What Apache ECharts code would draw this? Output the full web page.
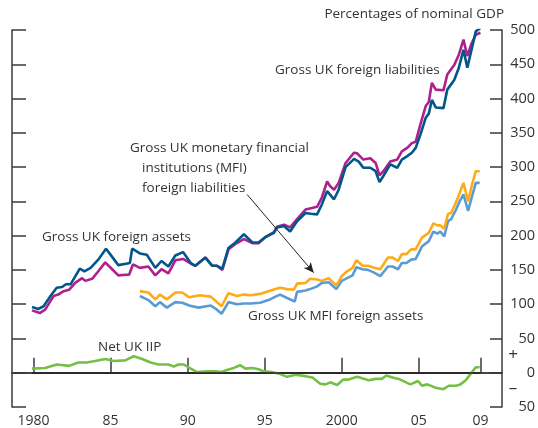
<!DOCTYPE html>
<html>
<head>
<meta charset="utf-8">
<script src="https://cdn.jsdelivr.net/npm/echarts@6/dist/echarts.min.js"></script>
<style>
  html, body { margin: 0; padding: 0; background: #fff; }
  #chart { width: 538px; height: 428px; }
</style>
</head>
<body>
<div id="chart"></div>
<script>
// Tick positions and labels
const tickYears = [1980, 1985, 1990, 1995, 2000, 2005, 2009];
const tickLabels = ["1980", "85", "90", "95", "2000", "05", "09"];

// Percentages of nominal GDP, [year, value]
const grossAssets = [
  [1979.9, 96], [1980.3, 93], [1980.65, 97], [1981.1, 112], [1981.5, 124], [1981.85, 125],
  [1982.1, 129], [1982.4, 129], [1983.0, 152], [1983.3, 148], [1983.7, 153], [1984.2, 165],
  [1984.7, 181], [1985.1, 169], [1985.5, 157], [1986.0, 159], [1986.25, 160], [1986.4, 181],
  [1986.9, 174], [1987.35, 172], [1987.9, 153], [1988.3, 163], [1988.75, 155], [1989.2, 171],
  [1989.7, 176], [1990.2, 160], [1990.5, 156], [1991.15, 168], [1991.6, 156], [1991.9, 156],
  [1992.25, 152], [1992.65, 182], [1993.1, 190], [1993.65, 202], [1994.2, 190], [1994.6, 190],
  [1995.05, 198], [1995.6, 204], [1995.8, 212], [1996.25, 214], [1996.65, 206], [1997.1, 221],
  [1997.65, 233], [1998.0, 232], [1998.4, 231], [1998.7, 245], [1999.05, 265], [1999.5, 253],
  [1999.8, 267], [2000.25, 300], [2000.8, 312], [2001.1, 308], [2001.4, 299], [2001.85, 299],
  [2002.2, 294], [2002.45, 278], [2002.7, 287], [2003.15, 304], [2003.6, 299], [2003.9, 311],
  [2004.25, 316], [2004.55, 321], [2004.8, 328], [2005.1, 347], [2005.45, 372], [2005.65, 378],
  [2005.85, 398], [2006.1, 387], [2006.6, 386], [2006.85, 413], [2007.3, 427], [2007.6, 445],
  [2007.9, 471], [2008.15, 445], [2008.4, 469], [2008.7, 498], [2009.0, 503]
];

const grossLiabilities = [
  [1979.9, 91], [1980.4, 87], [1980.75, 92], [1981.3, 112], [1981.6, 114], [1981.95, 119],
  [1982.3, 121], [1982.7, 131], [1983.15, 138], [1983.35, 134], [1983.8, 137], [1984.2, 148],
  [1984.65, 161], [1985.1, 151], [1985.5, 142], [1986.0, 143], [1986.2, 143], [1986.45, 158],
  [1986.9, 153], [1987.45, 155], [1987.9, 142], [1988.3, 151], [1988.75, 145], [1989.2, 164],
  [1989.7, 166], [1990.3, 158], [1990.5, 156], [1991.15, 168], [1991.6, 156], [1991.9, 156],
  [1992.25, 150], [1992.65, 180], [1993.1, 188], [1993.65, 195], [1994.2, 189], [1994.6, 189],
  [1995.05, 198], [1995.6, 205], [1995.8, 213], [1996.25, 216], [1996.65, 212], [1997.1, 224],
  [1997.65, 238], [1998.0, 240], [1998.4, 242], [1998.7, 255], [1999.05, 279], [1999.25, 272],
  [1999.5, 267], [1999.8, 277], [2000.25, 306], [2000.8, 321], [2001.0, 320], [2001.4, 311],
  [2001.85, 313], [2002.2, 306], [2002.45, 288], [2002.7, 294], [2003.15, 308], [2003.6, 311],
  [2003.9, 323], [2004.25, 328], [2004.55, 335], [2004.8, 337], [2005.1, 362], [2005.45, 389],
  [2005.65, 395], [2005.85, 423], [2006.1, 413], [2006.6, 412], [2006.85, 435], [2007.3, 449],
  [2007.6, 464], [2007.9, 486], [2008.15, 462], [2008.4, 479], [2008.7, 493], [2009.0, 496]
];

const mfiLiabilities = [
  [1986.9, 119], [1987.45, 117], [1987.9, 107], [1988.2, 114], [1988.65, 107], [1989.2, 117],
  [1989.65, 117], [1990.1, 110], [1990.8, 113], [1991.5, 111], [1991.9, 103], [1992.2, 97],
  [1992.65, 116], [1993.2, 112], [1993.65, 114], [1994.1, 113], [1994.7, 115], [1995.25, 119],
  [1995.7, 122], [1996.0, 124], [1996.45, 122], [1996.9, 121], [1997.1, 130], [1997.65, 131],
  [1997.95, 137], [1998.4, 136], [1998.7, 134], [1999.15, 138], [1999.65, 127], [2000.0, 141],
  [2000.35, 148], [2000.7, 153], [2000.95, 164], [2001.35, 156], [2001.7, 156], [2002.1, 153],
  [2002.5, 151], [2003.0, 168], [2003.3, 168], [2003.65, 163], [2003.9, 173], [2004.2, 173],
  [2004.5, 180], [2004.8, 180], [2005.2, 197], [2005.65, 204], [2005.95, 218], [2006.2, 215],
  [2006.4, 215], [2006.65, 210], [2006.9, 232], [2007.1, 233], [2007.4, 248], [2007.65, 262],
  [2007.9, 277], [2008.2, 250], [2008.45, 274], [2008.7, 294], [2008.95, 294]
];

const mfiAssets = [
  [1986.9, 112], [1987.45, 106], [1987.9, 97], [1988.2, 103], [1988.65, 95], [1989.2, 103],
  [1989.65, 102], [1990.1, 98], [1990.7, 95], [1991.5, 98], [1991.9, 92], [1992.2, 86],
  [1992.65, 103], [1993.2, 100], [1993.65, 101], [1994.1, 101], [1994.7, 102], [1995.25, 106],
  [1995.7, 111], [1996.0, 114], [1996.45, 109], [1996.95, 104], [1997.1, 118], [1997.65, 120],
  [1997.95, 122], [1998.4, 126], [1998.7, 131], [1999.15, 132], [1999.65, 122], [2000.0, 134],
  [2000.35, 138], [2000.7, 142], [2000.95, 154], [2001.35, 151], [2001.7, 150], [2002.1, 146],
  [2002.5, 141], [2003.0, 155], [2003.3, 155], [2003.65, 151], [2003.9, 160], [2004.2, 160],
  [2004.5, 165], [2004.8, 166], [2005.2, 184], [2005.65, 192], [2005.95, 206], [2006.2, 203],
  [2006.4, 206], [2006.65, 199], [2006.9, 221], [2007.1, 224], [2007.4, 237], [2007.65, 250],
  [2007.9, 260], [2008.2, 236], [2008.45, 257], [2008.7, 277], [2008.95, 277]
];

const netIIP = [
  [1979.9, 6], [1980.75, 7], [1981.5, 12], [1982.3, 10], [1982.9, 15], [1983.45, 15],
  [1984.0, 17], [1984.65, 20], [1985.2, 17], [1985.95, 18], [1986.5, 24], [1987.05, 20],
  [1987.6, 15], [1988.1, 12], [1988.75, 12], [1989.1, 9], [1989.4, 12], [1989.75, 12],
  [1990.2, 6], [1990.6, 1], [1991.25, 2], [1991.8, 2], [1992.2, 1], [1992.55, 4],
  [1993.0, 7], [1993.4, 11], [1993.75, 6], [1994.2, 7], [1994.6, 5], [1994.95, 2],
  [1995.4, 1], [1995.9, -1], [1996.45, -6], [1997.0, -3], [1997.65, -5], [1998.1, -7],
  [1998.6, -16], [1998.95, -17], [1999.25, -14], [1999.7, -18], [2000.1, -10], [2000.45, -10],
  [2001.0, -6], [2001.75, -11], [2002.2, -9], [2002.6, -9], [2002.9, -4], [2003.3, -7],
  [2003.7, -9], [2004.45, -17], [2004.95, -12], [2005.2, -19], [2005.55, -17], [2006.1, -22],
  [2006.6, -24], [2006.95, -19], [2007.4, -19], [2007.7, -17], [2008.05, -11], [2008.35, -2],
  [2008.7, 8], [2008.95, 8]
];

const FONT = "'Open Sans', 'Noto Sans', sans-serif";
const TEXT = "#333";
const AXIS = "#3a3a3a";

function label(text, x, y, align, size) {
  return {
    type: "text",
    x: x,
    y: y,
    style: {
      text: text,
      fill: TEXT,
      font: (size || 13.5) + "px " + FONT,
      textAlign: align || "left",
      textVerticalAlign: "middle",
    },
  };
}

function lineSeries(name, data, color, extra) {
  return Object.assign({
    name: name,
    type: "line",
    data: data,
    showSymbol: false,
    symbol: "none",
    lineStyle: { width: 2.6, color: color },
    itemStyle: { color: color },
  }, extra || {});
}

document.addEventListener("DOMContentLoaded", function () {
  const chart = echarts.init(document.getElementById("chart"));
  const option = {
    animation: false,
    textStyle: { fontFamily: FONT },
    grid: { left: 12, right: 36, top: 30, bottom: 21 },
    xAxis: [
      {
        type: "value",
        min: 1978.6,
        max: 2010.4,
        position: "bottom",
        axisLine: { show: true, lineStyle: { color: AXIS, width: 1.5 } },
        axisTick: {
          show: true,
          inside: true,
          length: 15,
          customValues: tickYears,
          lineStyle: { color: AXIS, width: 1.5 },
        },
        axisLabel: {
          customValues: tickYears,
          formatter: function (v) {
            return tickLabels[tickYears.indexOf(v)];
          },
          color: TEXT,
          fontSize: 14,
          margin: 7,
        },
        splitLine: { show: false },
      },
      {
        type: "value",
        min: 1978.6,
        max: 2010.4,
        position: "top",
        axisLine: { show: true, lineStyle: { color: AXIS, width: 1.5 } },
        axisTick: { show: false },
        axisLabel: { show: false },
        splitLine: { show: false },
      },
    ],
    yAxis: [
      {
        type: "value",
        min: -50,
        max: 500,
        interval: 50,
        position: "right",
        axisLine: { show: true, lineStyle: { color: AXIS, width: 1.5 } },
        axisTick: { show: true, inside: true, length: 12, lineStyle: { color: AXIS, width: 1.5 } },
        axisLabel: {
          formatter: function (v) {
            return Math.abs(v);
          },
          align: "right",
          margin: 33,
          color: TEXT,
          fontSize: 14.5,
        },
        splitLine: { show: false },
      },
      {
        type: "value",
        min: -50,
        max: 500,
        interval: 50,
        position: "left",
        axisLine: { show: true, lineStyle: { color: AXIS, width: 1.5 } },
        axisTick: { show: true, inside: true, length: 14, lineStyle: { color: AXIS, width: 1.5 } },
        axisLabel: { show: false },
        splitLine: { show: false },
      },
    ],
    series: [
      lineSeries("Net UK IIP", netIIP, "#74bf44", {
        markLine: {
          silent: true,
          symbol: "none",
          label: { show: false },
          lineStyle: { color: "#222", width: 1.5, type: "solid" },
          data: [[{ coord: [1979.9, 0] }, { coord: [2009.0, 0] }]],
        },
      }),
      lineSeries("Gross UK MFI foreign assets", mfiAssets, "#5b9bd5"),
      lineSeries("Gross UK MFI foreign liabilities", mfiLiabilities, "#fdab17", {
        markLine: {
          silent: true,
          symbol: ["none", "arrow"],
          symbolSize: [7, 10],
          label: { show: false },
          lineStyle: { color: "#222", width: 1, type: "solid" },
          data: [[{ coord: [1993.86, 260] }, { coord: [1998.18, 146] }]],
        },
      }),
      lineSeries("Gross UK foreign liabilities", grossLiabilities, "#b0208d"),
      lineSeries("Gross UK foreign assets", grossAssets, "#00578a"),
    ],
    graphic: [
      label("Percentages of nominal GDP", 504, 14, "right"),
      label("Gross UK foreign liabilities", 275, 70),
      label("Gross UK monetary financial", 130, 148),
      label("institutions (MFI)", 142, 168),
      label("foreign liabilities", 142, 188),
      label("Gross UK foreign assets", 42, 237),
      label("Gross UK MFI foreign assets", 248, 316),
      label("Net UK IIP", 98, 347),
      label("+", 513, 355, "center", 17),
      label("\u2013", 513, 388, "center", 17),
    ],
  };
  chart.setOption(option);

  window.addEventListener("resize", function () {
    chart.resize();
  });
});
</script>
</body>
</html>
